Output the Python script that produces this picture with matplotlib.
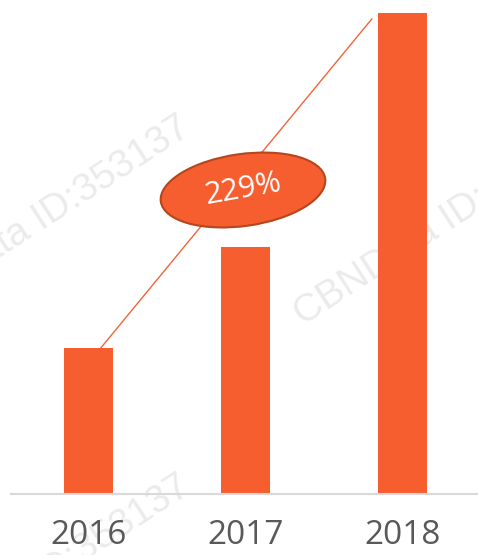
import matplotlib.pyplot as plt
from matplotlib.patches import Ellipse

# 数据
years = ['2016', '2017', '2018']
values = [1.0, 1.69, 3.29]
growth_label = '229%'

bar_color = '#F65D2F'
W, H = 478, 555

fig = plt.figure(figsize=(W / 100, H / 100), dpi=100)
ax = fig.add_axes([11 / W, 61 / H, (W - 11) / W, (H - 61) / H])
ax.patch.set_alpha(0)  # 让水印显示在柱子后面

x = range(len(years))
ax.bar(x, values, width=0.312, color=bar_color, zorder=2)

ax.set_xlim(-0.497, 2.48)
ax.set_ylim(0, 3.38)
ax.set_xticks(list(x))
ax.set_xticklabels(years, fontsize=24, color='#595959', family='Open Sans')
ax.tick_params(axis='x', length=0, pad=18)
ax.set_yticks([])
for s in ['top', 'right', 'left']:
    ax.spines[s].set_visible(False)
ax.spines['bottom'].set_color('#D9D9D9')
ax.spines['bottom'].set_linewidth(1.5)

# 增长连线：从2016柱顶到2018柱旁
ax.plot([0 + 0.076, 2 - 0.197], [values[0], values[2] - 0.04],
        color='#F2643A', linewidth=1.0, zorder=1)

# 水印
def px(xp, yp):
    return xp / 100, (H - yp) / 100

for (wx, wy) in [(-105, 326), (303, 326), (-105, 685)]:
    fig.text(*px(wx, wy), 'CBNData ID:353137', transform=fig.dpi_scale_trans,
             fontsize=28, color='#EBEBEB', family='Liberation Sans',
             rotation=33, rotation_mode='anchor', ha='left', va='baseline',
             zorder=-1)

# 椭圆标注
ell = Ellipse(px(243, 190), 1.66, 0.72, angle=8, transform=fig.dpi_scale_trans,
              facecolor=bar_color, edgecolor='#B5461E', linewidth=1.5, zorder=5)
fig.patches.append(ell)
fig.text(*px(243, 189), growth_label, transform=fig.dpi_scale_trans,
         fontsize=22, color='white', family='Open Sans', rotation=10,
         ha='center', va='center', rotation_mode='anchor', zorder=6)

fig.savefig('out.png', dpi=100)
